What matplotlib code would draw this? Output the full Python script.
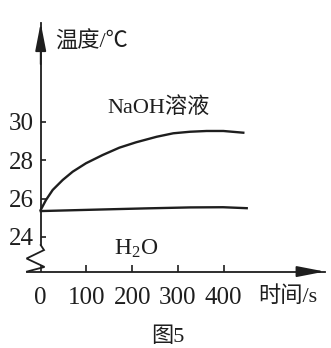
import matplotlib
matplotlib.use("Agg")
import matplotlib.pyplot as plt

FONTS = ["Liberation Serif", "Noto Sans CJK SC", "DejaVu Sans"]
plt.rcParams["font.family"] = FONTS
plt.rcParams["mathtext.fontset"] = "custom"
plt.rcParams["mathtext.rm"] = "Liberation Serif"

# data
time_naoh = [0, 11.6, 26.2, 48.1, 69.9, 99.0, 135.5, 171.8, 208.3, 253.6, 289.8, 326.3, 362.8, 399.1, 442.8]
temp_naoh = [25.41, 25.93, 26.45, 26.97, 27.40, 27.84, 28.27, 28.65, 28.93, 29.22, 29.40, 29.48, 29.52, 29.52, 29.43]
time_water = [0, 129.6, 230.2, 326.3, 398.5, 450.3]
temp_water = [25.35, 25.43, 25.49, 25.54, 25.55, 25.50]
x_ticks = [0, 100, 200, 300, 400]
y_ticks = [24, 26, 28, 30]

ink = "#1e1e1e"
fs = 16
fs_tick = 18

fig = plt.figure(figsize=(3.31, 3.48), dpi=100)
ax = fig.add_axes([0, 0, 1, 1])
ax.set_xlim(-89.0, 634.5)
ax.set_ylim(18.22, 36.34)
ax.patch.set_alpha(0)

x_base = 22.2   # where the time axis sits
y_top = 35.15
x_end = 621

for s in ["top", "right"]:
    ax.spines[s].set_visible(False)
ax.spines["left"].set_position(("data", 0))
ax.spines["left"].set_bounds(23.58, y_top)
ax.spines["bottom"].set_position(("data", x_base))
ax.spines["bottom"].set_bounds(-30, x_end)
for s in ["left", "bottom"]:
    ax.spines[s].set_linewidth(1.3)
    ax.spines[s].set_color(ink)

ax.set_xticks(x_ticks)
ax.set_xticklabels([str(t) for t in x_ticks])
ax.set_yticks(y_ticks)
ax.set_yticklabels([str(t) for t in y_ticks])
ax.tick_params(axis="x", direction="in", length=5, width=1.2, color=ink,
               labelsize=fs_tick, labelcolor=ink, pad=11)
ax.tick_params(axis="y", direction="in", length=3.8, width=1.2, color=ink,
               labelsize=fs_tick, labelcolor=ink, pad=5)

# axis break zigzag
ax.plot([0, 7.2, -31, 8.3, -30], [23.58, 23.32, 22.88, 22.44, x_base],
        color=ink, lw=1.3, solid_joinstyle="miter")

# arrow heads
arrow = dict(arrowstyle="-|>,head_length=1.7,head_width=0.33", mutation_scale=10,
             color=ink, lw=1.3, shrinkA=0, shrinkB=0)
ax.annotate("", xy=(0, y_top), xytext=(0, 33.0), arrowprops=arrow)
ax.annotate("", xy=(x_end, x_base), xytext=(560, x_base), arrowprops=arrow)

ax.plot(time_naoh, temp_naoh, color=ink, lw=1.7)
ax.plot(time_water, temp_water, color=ink, lw=1.7)

ax.text(31, 34.15, "温度/℃", fontsize=fs, color=ink, va="center", ha="left")
ax.text(258, 30.75, "NaOH溶液", fontsize=fs, color=ink, va="center", ha="center")
ax.text(208, 23.4, r"$\mathregular{H_2O}$", fontsize=fs + 1, color=ink, va="center", ha="center")
ax.text(540, 20.9, "时间/s", fontsize=fs, color=ink, va="center", ha="center")
ax.text(278, 18.8, "图5", fontsize=fs, color=ink, va="center", ha="center")

fig.savefig("out.png", dpi=100)
